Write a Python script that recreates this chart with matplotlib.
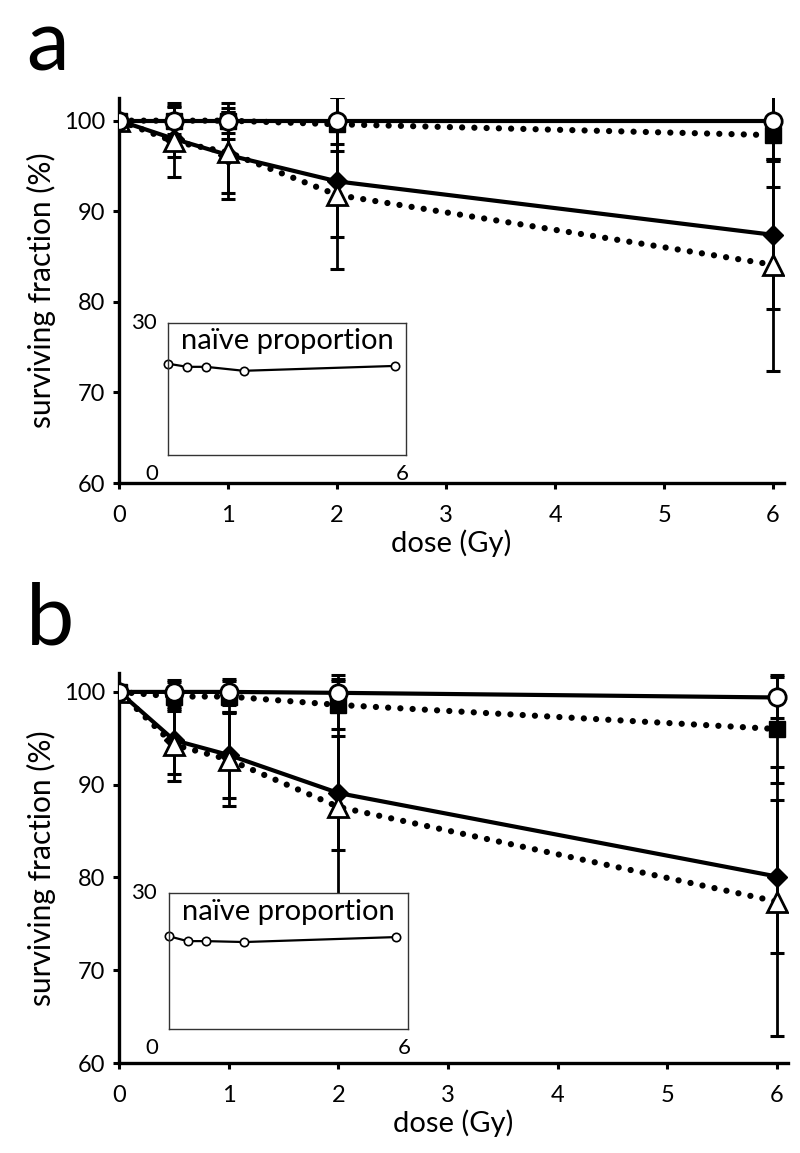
import matplotlib
matplotlib.use('Agg')
import matplotlib.pyplot as plt

plt.rcParams['font.family'] = ['Lato', 'DejaVu Sans']
plt.rcParams['xtick.major.pad'] = 12
plt.rcParams['ytick.major.pad'] = 6
plt.rcParams['xtick.major.size'] = 4
plt.rcParams['ytick.major.size'] = 4
plt.rcParams['xtick.major.width'] = 2.2
plt.rcParams['ytick.major.width'] = 2.2
plt.rcParams['xtick.labelsize'] = 17
plt.rcParams['ytick.labelsize'] = 17

dose = [0, 0.5, 1, 2, 6]

# panel a
a_circle = [100, 100, 100, 100, 100]
a_circle_err = [0, 2.0, 2.0, 2.6, 4.2]
a_square = [100, 100, 100, 99.6, 98.4]
a_square_err = [0, 1.5, 1.4, 3.0, 5.7]
a_diamond = [100, 98.0, 96.2, 93.3, 87.4]
a_diamond_err = [0, 2.0, 4.8, 6.1, 8.2]
a_triangle = [100, 97.7, 96.5, 91.8, 84.1]
a_triangle_err = [0, 3.9, 4.5, 8.2, 11.7]
a_naive = [20.7, 20.0, 20.0, 19.1, 20.2]

# panel b
b_circle = [100, 100, 100, 99.9, 99.4]
b_circle_err = [0, 1.3, 1.4, 1.9, 2.2]
b_square = [100, 99.5, 99.5, 98.6, 96.0]
b_square_err = [0, 1.6, 1.7, 2.6, 5.8]
b_diamond = [100, 94.8, 93.2, 89.1, 80.1]
b_diamond_err = [0, 3.6, 4.6, 6.1, 8.2]
b_triangle = [100, 94.3, 92.7, 87.6, 77.4]
b_triangle_err = [0, 3.9, 5.0, 13.8, 14.5]
b_naive = [20.5, 19.4, 19.4, 19.2, 20.3]

x_ticks = [0, 1, 2, 3, 4, 5, 6]
y_ticks = [60, 70, 80, 90, 100]

dotted = (0, (0.01, 1.95))


def draw_panel(ax, circle, circle_err, square, square_err, diamond, diamond_err,
               triangle, triangle_err, naive, ylim_top, inset_box, letter):
    # error bars
    for vals, errs in [(circle, circle_err), (square, square_err),
                       (diamond, diamond_err), (triangle, triangle_err)]:
        ax.errorbar(dose, vals, yerr=errs, fmt='none', ecolor='black',
                    elinewidth=2.0, capsize=4.8, capthick=2.2, zorder=2)
    # lines
    ax.plot(dose, square, color='black', lw=4.5, linestyle=dotted,
            dash_capstyle='round', zorder=3)
    ax.plot(dose, triangle, color='black', lw=4.5, linestyle=dotted,
            dash_capstyle='round', zorder=3)
    ax.plot(dose, circle, color='black', lw=3.0, zorder=4)
    ax.plot(dose, diamond, color='black', lw=3.0, zorder=4)
    # markers
    ax.plot(dose, square, linestyle='none', marker='s', ms=11,
            mfc='black', mec='black', zorder=5)
    ax.plot(dose, diamond, linestyle='none', marker='D', ms=10,
            mfc='black', mec='black', zorder=5)
    ax.plot(dose, triangle, linestyle='none', marker='^', ms=14.5,
            mfc='white', mec='black', mew=2.0, zorder=6)
    ax.plot(dose, circle, linestyle='none', marker='o', ms=12.5,
            mfc='white', mec='black', mew=2.0, zorder=6)

    ax.set_xlim(0, 6.1)
    ax.set_ylim(60, ylim_top)
    ax.set_xticks(x_ticks)
    ax.set_yticks(y_ticks)
    for side in ['top', 'right']:
        ax.spines[side].set_visible(False)
    for side in ['left', 'bottom']:
        ax.spines[side].set_linewidth(2.4)
    ax.set_xlabel('dose (Gy)', fontsize=21, labelpad=2)
    ax.set_ylabel('surviving fraction (%)', fontsize=21.5, labelpad=6)
    ax.text(-0.14, 1.135, letter, transform=ax.transAxes, fontsize=62,
            ha='left', va='center')

    ins = ax.inset_axes(inset_box, transform=ax.transData)
    ins.plot(dose, naive, color='black', lw=1.6, marker='o', ms=6,
             mfc='white', mec='black', mew=1.2, clip_on=False)
    ins.set_xlim(0, 6.3)
    ins.set_ylim(0, 30)
    ins.set_xticks([])
    ins.set_yticks([])
    for s in ins.spines.values():
        s.set_linewidth(1.0)
        s.set_color('#333333')
    ins.text(0.5, 0.86, 'naïve proportion', transform=ins.transAxes,
             fontsize=21, ha='center', va='center')
    ins.text(-0.05, 1.0, '30', transform=ins.transAxes, fontsize=16,
             ha='right', va='center')
    ins.text(-0.07, -0.14, '0', transform=ins.transAxes, fontsize=16,
             ha='center', va='center')
    ins.text(0.985, -0.14, '6', transform=ins.transAxes, fontsize=16,
             ha='center', va='center')


fig = plt.figure(figsize=(8, 11.53), dpi=100)
ax_a = fig.add_axes([0.149, 0.581, 0.831, 0.334])
ax_b = fig.add_axes([0.149, 0.078, 0.836, 0.338])

draw_panel(ax_a, a_circle, a_circle_err, a_square, a_square_err,
           a_diamond, a_diamond_err, a_triangle, a_triangle_err, a_naive,
           102.5, [0.45, 63.1, 2.18, 14.6], 'a')
draw_panel(ax_b, b_circle, b_circle_err, b_square, b_square_err,
           b_diamond, b_diamond_err, b_triangle, b_triangle_err, b_naive,
           102.0, [0.45, 63.7, 2.18, 14.6], 'b')

fig.savefig('out.png', dpi=100)
